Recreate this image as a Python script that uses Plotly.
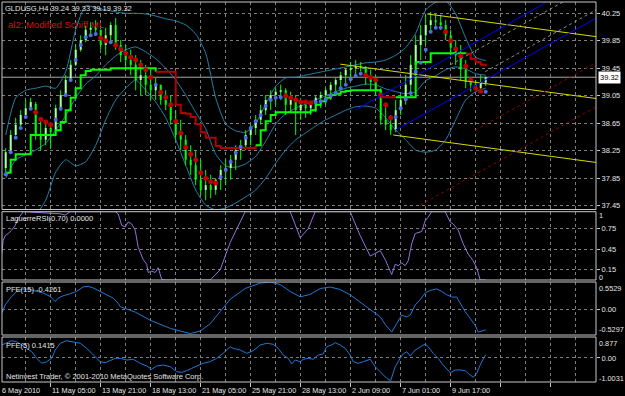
import plotly.graph_objects as go

# ---------------- data ----------------
symbol = "GLDUSG,H4"

bar_open = [38.00, 38.23, 38.48, 38.63, 38.77, 38.87, 38.93, 38.48, 38.41, 38.58,
            38.55, 38.87, 39.06, 39.28, 39.50, 39.72, 39.86, 40.01, 40.04, 40.01,
            39.79, 39.93, 40.08, 39.79, 39.64, 39.57, 39.50, 39.28, 39.35, 39.21,
            39.13, 39.21, 38.99, 38.92, 38.70, 38.48, 38.41, 38.12, 38.04, 37.83,
            37.68, 37.75, 37.68, 37.83, 37.97, 38.00, 38.12, 38.26, 38.33, 38.48,
            38.58, 38.70, 38.84, 38.99, 39.06, 39.11, 39.13, 38.92, 38.99, 38.84,
            38.92, 38.87, 38.93, 39.02, 39.06, 39.13, 39.21, 39.28, 39.35, 39.43,
            39.45, 39.48, 39.45, 39.31, 39.25, 39.13, 38.70, 38.63, 38.55, 38.84,
            38.99, 39.21, 39.50, 39.79, 39.93, 40.08, 40.15, 40.12, 40.08, 39.93,
            39.75, 39.64, 39.43, 39.25, 39.21, 39.16, 39.24]
bar_high = [38.29, 38.55, 38.73, 38.84, 38.99, 39.02, 38.96, 38.68, 38.64, 38.60,
            38.92, 39.13, 39.35, 39.57, 39.79, 39.93, 40.07, 40.12, 40.15, 40.01,
            40.04, 40.12, 40.18, 39.86, 39.79, 39.72, 39.64, 39.57, 39.50, 39.43,
            39.31, 39.21, 39.13, 39.06, 38.84, 38.70, 38.48, 38.33, 38.26, 38.12,
            37.97, 37.90, 37.85, 38.04, 38.12, 38.19, 38.33, 38.41, 38.55, 38.63,
            38.77, 38.92, 39.06, 39.13, 39.16, 39.21, 39.16, 39.11, 39.06, 38.99,
            38.99, 38.96, 39.05, 39.11, 39.16, 39.25, 39.31, 39.40, 39.45, 39.54,
            39.57, 39.54, 39.48, 39.43, 39.35, 39.16, 38.92, 38.77, 38.99, 39.06,
            39.35, 39.64, 39.93, 40.08, 40.23, 40.27, 40.24, 40.23, 40.15, 40.01,
            39.86, 39.79, 39.57, 39.31, 39.28, 39.35, 39.33]
bar_low = [37.94, 38.21, 38.47, 38.61, 38.77, 38.85, 38.41, 38.26, 38.33, 38.29,
           38.52, 38.84, 39.05, 39.25, 39.48, 39.69, 39.83, 39.95, 39.96, 39.72,
           39.64, 39.86, 39.72, 39.54, 39.43, 39.35, 39.13, 39.06, 39.06, 38.99,
           38.99, 38.92, 38.84, 38.63, 38.41, 38.26, 38.04, 37.90, 37.75, 37.61,
           37.53, 37.56, 37.61, 37.68, 37.75, 37.83, 37.97, 38.12, 38.26, 38.33,
           38.48, 38.63, 38.77, 38.84, 38.92, 38.99, 38.77, 38.81, 38.48, 38.70,
           38.73, 38.77, 38.81, 38.87, 38.92, 38.99, 39.06, 39.13, 39.21, 39.28,
           39.35, 39.40, 39.21, 39.13, 39.06, 38.63, 38.55, 38.48, 38.52, 38.77,
           38.92, 39.06, 39.43, 39.57, 39.79, 40.01, 40.04, 40.01, 39.86, 39.64,
           39.50, 39.28, 39.16, 39.11, 39.13, 39.13, 39.19]
bar_close = [38.23, 38.48, 38.63, 38.77, 38.87, 38.96, 38.48, 38.41, 38.58, 38.52,
             38.87, 39.06, 39.28, 39.50, 39.72, 39.86, 40.01, 40.04, 40.01, 39.79,
             39.93, 40.08, 39.79, 39.64, 39.57, 39.50, 39.28, 39.35, 39.21, 39.13,
             39.21, 38.99, 38.92, 38.70, 38.48, 38.41, 38.12, 38.04, 37.83, 37.68,
             37.75, 37.68, 37.83, 37.97, 38.00, 38.12, 38.26, 38.33, 38.48, 38.58,
             38.70, 38.84, 38.99, 39.06, 39.11, 39.13, 38.92, 38.99, 38.84, 38.92,
             38.87, 38.93, 39.02, 39.06, 39.13, 39.21, 39.28, 39.35, 39.43, 39.45,
             39.48, 39.45, 39.31, 39.25, 39.13, 38.70, 38.63, 38.55, 38.84, 38.99,
             39.21, 39.50, 39.79, 39.93, 40.08, 40.15, 40.12, 40.08, 39.93, 39.75,
             39.64, 39.43, 39.25, 39.21, 39.16, 39.25, 39.32]
bar_index = list(range(1, len(bar_close) + 1))

# parabolic-style dots (u = below price / blue, d = above price / red)
sar_value = [37.91, 38.23, 38.44, 38.58, 38.74, 38.86, 38.81, 38.71, 38.67, 38.63,
             38.70, 38.86, 39.06, 39.28, 39.57, 39.79, 39.90, 39.93, 39.95, 39.89,
             39.85, 39.83, 39.79, 39.73, 39.67, 39.61, 39.57, 39.50, 39.43, 39.32,
             39.21, 39.10, 39.03, 38.92, 38.68, 38.51, 38.30, 38.20, 38.12, 37.93,
             37.85, 37.80, 37.78, 37.87, 37.97, 38.09, 38.22, 38.31, 38.44, 38.58,
             38.68, 38.77, 38.90, 38.99, 39.02, 39.03, 39.05, 39.02, 38.99, 38.96,
             38.96, 38.95, 38.96, 38.97, 39.00, 39.05, 39.09, 39.16, 39.21, 39.29,
             39.34, 39.37, 39.35, 39.32, 39.28, 39.06, 38.92, 38.73, 38.74, 38.87,
             39.00, 39.09, 39.40, 39.53, 39.72, 39.98, 40.04, 40.04, 39.98, 39.85,
             39.73, 39.63, 39.48, 39.28, 39.16, 39.12, 39.11]
sar_side = ("uuuuuu" "dddd" "uuuuuuuuu" "dd" "u" "dddddddd" "u" "dddddddddddd"
            "uuuuuuuuuuuuu" "dddddd" "uuuuuuuuuu" "dddddd" "uuuuuuuuuu" "dddddddd" "u")

# stepped trailing line
stop_value = [37.93, 38.12, 38.20, 38.20, 38.20, 38.48, 38.48, 38.48, 38.48, 38.48,
              38.55, 38.67, 38.84, 39.02, 39.16, 39.35, 39.41, 39.43, 39.43, 39.43,
              39.43, 39.45, 39.45, 39.45, 39.45, 39.45, 39.45, 39.45, 39.45, 39.45,
              39.40, 39.40, 39.40, 39.40, 38.92, 38.80, 38.79, 38.74, 38.64, 38.52,
              38.44, 38.44, 38.32, 38.29, 38.29, 38.29, 38.29, 38.29, 38.29, 38.29,
              38.33, 38.55, 38.68, 38.77, 38.81, 38.81, 38.81, 38.81, 38.81, 38.81,
              38.81, 38.84, 38.92, 38.97, 39.02, 39.06, 39.08, 39.11, 39.12, 39.13,
              39.13, 39.13, 39.13, 39.13, 39.13, 39.03, 39.03, 39.03, 39.03, 39.03,
              39.03, 39.03, 39.54, 39.54, 39.54, 39.67, 39.67, 39.67, 39.67, 39.67,
              39.67, 39.67, 39.66, 39.59, 39.54, 39.50, 39.48]
stop_side = ("uuuuuuuuuuuuuuuuuuuuuuuuuuuuuu"
             "dddddddddddddddddddd"
             "uuuuuuuuuuuuuuuuuuuuuuuuu"
             "ddd"
             "uuuuuuuuuuuuuu"
             "ddddd")

# Bollinger bands (every second bar)
band_index = list(range(1, 98, 2))
band_upper = [38.48, 39.02, 39.13, 39.16, 39.19, 39.16, 39.40, 40.01, 40.36, 40.33,
              40.30, 40.27, 40.25, 40.25, 40.24, 40.21, 40.17, 40.14, 40.08, 39.95,
              39.67, 39.02, 38.64, 38.54, 38.52, 38.65, 38.93, 39.19, 39.31, 39.32,
              39.35, 39.38, 39.41, 39.44, 39.47, 39.50, 39.53, 39.54, 39.57, 39.64,
              39.75, 39.96, 40.30, 40.41, 40.43, 40.24, 39.89, 39.61, 39.56]
band_middle = [37.85, 38.12, 38.19, 38.26, 38.36, 38.55, 38.76, 39.02, 39.22, 39.34,
               39.50, 39.63, 39.72, 39.76, 39.69, 39.59, 39.45, 39.28, 39.06, 38.81,
               38.57, 38.20, 38.03, 38.01, 38.06, 38.17, 38.39, 38.64, 38.79, 38.87,
               38.93, 38.99, 39.05, 39.11, 39.16, 39.19, 39.22, 39.21, 39.15, 39.11,
               39.08, 39.11, 39.27, 39.34, 39.43, 39.47, 39.44, 39.37, 39.35]
band_lower = [37.17, 37.17, 37.21, 37.32, 37.53, 37.94, 38.12, 38.03, 38.09, 38.33,
              38.70, 38.99, 39.16, 39.28, 39.13, 38.96, 38.73, 38.41, 38.04, 37.68,
              37.46, 37.39, 37.42, 37.49, 37.58, 37.68, 37.85, 38.07, 38.26, 38.41,
              38.51, 38.61, 38.70, 38.77, 38.84, 38.89, 38.90, 38.87, 38.73, 38.55,
              38.41, 38.26, 38.23, 38.26, 38.41, 38.70, 38.99, 39.11, 39.16]

# pitchfork objects: (bar positions, prices)
fork_yellow = [([85.3, 119.1], [40.24, 39.91]),
               ([67.9, 119.1], [39.51, 39.01]),
               ([78.5, 119.1], [38.48, 38.08])]
fork_blue = [([70.9, 108.9], [38.84, 40.40]),
             ([78.9, 119.1], [38.55, 40.18])]
fork_grey = [([89.9, 113.1], [39.50, 40.44]),
             ([96.9, 119.1], [39.40, 40.30])]
fork_red = [([94.9, 119.1], [38.55, 39.53]),
            ([83.9, 119.1], [37.46, 38.89])]

laguerre_index = [0.2, 0.5, 0.9, 1.5, 2.2, 2.9, 3.5, 4.2, 4.5, 11.9, 12.9, 13.9,
                  22.9, 23.5, 24.2, 24.9, 25.5, 26.2, 26.9, 27.5, 28.5,
                  29.2, 29.5, 30.2, 30.9, 31.5, 32.2, 32.9, 41.9, 43.9, 45.9, 47.9,
                  48.9, 57.9, 58.9, 59.9, 61.5, 62.9,
                  69.9, 71.9, 73.9, 75.9, 76.9, 77.9, 78.2, 78.9, 79.5, 80.2, 80.9,
                  81.5, 82.2, 82.9, 84.2, 84.9, 85.5, 86.2, 88.9, 89.9, 90.5, 91.5,
                  92.5, 93.5, 94.5, 95.2, 95.9, 97]
laguerre_value = [0.38, 0.58, 0.65, 0.68, 0.73, 0.80, 0.90, 0.97, 1.0, 0.97, 0.95, 1.0,
                  1.0, 0.97, 0.80, 0.78, 0.85, 0.82, 0.73, 0.48, 0.30,
                  0.23, 0.11, 0.13, 0.11, 0.18, 0.01, 0.0, 0.0, 0.15, 0.55, 0.85,
                  1.0, 1.0, 0.80, 0.62, 0.75, 1.0,
                  1.0, 0.65, 0.35, 0.43, 0.30, 0.13, 0.08, 0.23, 0.21, 0.25, 0.21,
                  0.28, 0.53, 0.68, 0.71, 0.87, 0.92, 1.0, 1.0, 0.85, 0.82, 0.73,
                  0.53, 0.38, 0.28, 0.18, 0.0, 0.0]

pfe15_index = [0.2, 0.9, 1.9, 3.2, 4.5, 5.9, 7.2, 8.5, 9.9, 10.9,
               11.5, 12.5, 13.9, 15.2, 16.5, 17.5, 18.5, 19.9, 21.2, 22.5,
               23.5, 23.9, 26.9, 29.9, 33.9, 37.9, 39.9, 41.9, 43.9, 45.9,
               48.9, 51.9, 53.9, 55.9, 57.9, 59.9, 61.9, 63.9, 65.9, 67.9,
               69.9, 72.9, 75.9, 76.9, 78.2, 79.2, 80.2,
               81.2, 81.9, 82.9, 83.9, 84.9, 85.9, 87.2, 88.2, 89.2, 90.2,
               91.2, 91.9, 92.9, 93.9, 94.9, 95.5, 96.2, 97]
pfe15_value = [-0.088, 0.084, 0.224, 0.361, 0.411, 0.397, 0.361, 0.328, 0.257, 0.153,
               0.224, 0.272, 0.314, 0.361, 0.453, 0.465, 0.432, 0.361, 0.293, 0.224,
               0.120, 0.049, -0.061, -0.228, -0.394, -0.500, -0.450, -0.300, -0.050, 0.200,
               0.420, 0.530, 0.5529, 0.500, 0.360, 0.250, 0.300, 0.420, 0.450, 0.400,
               0.290, 0.064, -0.159, -0.311, -0.471, -0.296, -0.124,
               -0.159, -0.124, 0.084, 0.189, 0.328, 0.382, 0.411, 0.361, 0.293, 0.245,
               0.245, 0.120, -0.055, -0.192, -0.332, -0.471, -0.457, -0.4261]
pfe15_range = [-0.5297, 0.5529]

pfe5_index = [0.2, 1.2, 2.2, 3.2, 4.2, 5.2, 6.2, 7.2, 8.2, 9.2,
              10.2, 10.9, 11.9, 13.2, 14.5, 15.9, 17.2, 18.5, 19.9, 20.9,
              21.9, 22.9, 23.9, 25.2, 26.5, 27.9, 29.2, 30.2, 31.2, 32.5,
              33.9, 35.2, 36.2, 37.2, 38.2, 39.2, 40.5, 41.9, 43.2, 44.5,
              45.9, 46.5, 47.9, 49.2, 50.5, 51.9, 53.2, 54.5, 55.5, 56.5,
              57.5, 58.2, 58.9, 59.9, 60.5, 61.5, 62.5, 63.5, 64.5, 65.2,
              66.2, 66.9, 67.9, 68.9, 69.9, 70.5, 71.5, 72.5, 73.9, 74.9,
              76.2, 77.2, 78.0, 78.9, 79.9, 80.5, 81.2, 81.9, 82.9, 83.9,
              84.9, 85.5, 86.5, 87.5, 88.5, 89.9, 90.9, 91.9, 92.9, 93.5,
              94.5, 95.2, 95.9, 97]
pfe5_value = [0.543, 0.639, 0.722, 0.681, 0.543, 0.405, 0.263, -0.013, -0.222, -0.155,
              -0.013, 0.334, 0.614, 0.722, 0.681, 0.614, 0.405, 0.125, -0.155, -0.197,
              -0.113, -0.013, -0.013, -0.084, -0.055, -0.222, -0.335, -0.473, -0.335, -0.293,
              -0.364, -0.573, -0.598, -0.531, -0.431, -0.335, -0.222, -0.155, -0.013, 0.196,
              0.472, 0.405, 0.334, 0.196, 0.305, 0.543, 0.614, 0.572, 0.405, 0.125,
              -0.013, -0.251, -0.084, -0.155, -0.055, -0.013, -0.055, 0.125, 0.167, 0.472,
              0.543, 0.639, 0.543, 0.405, 0.125, -0.155, -0.222, -0.155, -0.055, -0.364,
              -0.640, -0.849, -0.949, -0.364, -0.013, 0.167, 0.263, 0.083, 0.334, 0.447,
              0.585, 0.472, 0.196, -0.013, -0.293, -0.615, -0.502, -0.502, -0.531, -0.640,
              -0.807, -0.640, -0.293, 0.1415]
pfe5_range = [-1.0031, 0.877]

price_ticks = [37.45, 37.85, 38.25, 38.65, 39.05, 39.45, 39.85, 40.25]
laguerre_ticks = [0.15, 0.45, 0.75]

time_labels = ["6 May 2010", "11 May 05:00", "13 May 21:00", "18 May 13:00",
               "21 May 05:00", "25 May 21:00", "28 May 13:00", "2 Jun 09:00",
               "7 Jun 01:00", "9 Jun 17:00"]
time_label_index = [0, 10, 20, 30, 40, 50, 60, 70, 80, 90]

# ---------------- style ----------------
FONT = "Liberation Sans"
TXT = "#E4E4E4"
GRID = "#7C7C7C"
FRAME = "#C8C8C8"
BAND = "rgb(38,128,168)"
LIME = "#00FF00"
BODY = "#A8FFA8"
DARKRED = "#B40000"
X_RANGE = [0.26, 119.06]

fig = go.Figure()

for band in (band_upper, band_middle, band_lower):
    fig.add_trace(go.Scatter(x=band_index, y=band, mode="lines",
                             line=dict(color=BAND, width=1, shape="spline", smoothing=0.6),
                             hoverinfo="skip"))

# bars: thin wicks + narrow bodies
wick_x, wick_y, up_x, up_y, dn_x, dn_y = [], [], [], [], [], []
for b, o, h, l, c in zip(bar_index, bar_open, bar_high, bar_low, bar_close):
    wick_x += [b, b, None]
    wick_y += [l, h, None]
    if c >= o:
        up_x += [b, b, None]
        up_y += [o, c, None]
    else:
        dn_x += [b, b, None]
        dn_y += [o, c, None]
fig.add_trace(go.Scatter(x=wick_x, y=wick_y, mode="lines", line=dict(color=LIME, width=1),
                         hoverinfo="skip"))
fig.add_trace(go.Scatter(x=up_x, y=up_y, mode="lines", line=dict(color=BODY, width=2),
                         hoverinfo="skip"))
fig.add_trace(go.Scatter(x=dn_x, y=dn_y, mode="lines", line=dict(color=LIME, width=2),
                         hoverinfo="skip"))


def runs(side):
    out, start = [], 0
    for i in range(1, len(side) + 1):
        if i == len(side) or side[i] != side[start]:
            out.append((start, i, side[start]))
            start = i
    return out


for s, e, t in runs(stop_side):
    idx = list(range(s, min(e + 1, len(stop_value))))
    fig.add_trace(go.Scatter(x=[bar_index[i] for i in idx], y=[stop_value[i] for i in idx],
                             mode="lines",
                             line=dict(color=LIME if t == "u" else DARKRED, width=2, shape="hv"),
                             hoverinfo="skip"))

fig.add_trace(go.Scatter(x=bar_index,
                         y=[v if s == "d" else None for v, s in zip(sar_value, sar_side)],
                         mode="markers", marker=dict(color="#C00000", size=5)))
fig.add_trace(go.Scatter(x=bar_index,
                         y=[v if s == "u" else None for v, s in zip(sar_value, sar_side)],
                         mode="markers", marker=dict(color="#4A6FE0", size=4)))

for xs, ys in fork_yellow:
    fig.add_trace(go.Scatter(x=xs, y=ys, mode="lines", line=dict(color="#D8D800", width=1)))
for xs, ys in fork_blue:
    fig.add_trace(go.Scatter(x=xs, y=ys, mode="lines", line=dict(color="#0000FF", width=1)))
for xs, ys in fork_grey:
    fig.add_trace(go.Scatter(x=xs, y=ys, mode="lines", line=dict(color="#8A8A8A", width=1, dash="dot")))
for xs, ys in fork_red:
    fig.add_trace(go.Scatter(x=xs, y=ys, mode="lines", line=dict(color="#8B0000", width=1, dash="dot")))

fig.add_trace(go.Scatter(x=laguerre_index, y=laguerre_value, yaxis="y2", mode="lines",
                         line=dict(color="#9370DB", width=1)))
fig.add_trace(go.Scatter(x=pfe15_index, y=pfe15_value, yaxis="y3", mode="lines",
                         line=dict(color="#1E78D8", width=1)))
fig.add_trace(go.Scatter(x=pfe5_index, y=pfe5_value, yaxis="y4", mode="lines",
                         line=dict(color="#1E78D8", width=1)))

# ---------------- layout ----------------
H_TOP, H_BOT = 2, 14
PLOT_H = 396 - H_TOP - H_BOT


def py(pix):
    return (396 - H_BOT - pix) / PLOT_H


def px(bar):
    return (bar - X_RANGE[0]) / (X_RANGE[1] - X_RANGE[0])


def yax(domain, rng, tickvals, ticktext):
    return dict(domain=domain, anchor="x", side="right", range=rng,
                tickvals=tickvals, ticktext=ticktext, ticks="outside", ticklen=3,
                tickcolor=FRAME, showgrid=True, gridcolor=GRID, griddash="dot",
                gridwidth=1, zeroline=False, showline=False, fixedrange=True,
                tickfont=dict(family=FONT, size=7.5, color=TXT))


major_x = [0, 10, 20, 30, 40, 50, 60, 70, 80, 90, 100, 110]
minor_x = [5, 15, 25, 35, 45, 55, 65, 75, 85, 95, 105, 115]

fig.update_layout(
    width=625, height=396,
    margin=dict(l=2, r=29, t=H_TOP, b=H_BOT),
    paper_bgcolor="black", plot_bgcolor="black",
    showlegend=False,
    font=dict(family=FONT, size=8, color=TXT),
    xaxis=dict(domain=[0, 1], anchor="y4", range=X_RANGE,
               tickvals=major_x, ticks="outside", ticklen=4, tickcolor=FRAME,
               showticklabels=False, showgrid=True, gridcolor=GRID, griddash="dot",
               gridwidth=1, zeroline=False, showline=False, fixedrange=True,
               minor=dict(tickvals=minor_x, showgrid=True, gridcolor=GRID,
                          griddash="dot", ticks="")),
    yaxis=yax([py(209.5), 1.0], [37.396, 40.414], price_ticks,
              [f"{v:.2f}" for v in price_ticks]),
    yaxis2=yax([py(280), py(211.7)], [0, 1], laguerre_ticks,
               [f"{v:.2f}" for v in laguerre_ticks]),
    yaxis3=yax([py(335), py(282)], pfe15_range, [0], ["0.00"]),
    yaxis4=yax([0, py(337)], pfe5_range, [0], ["0.00"]),
)

shapes = []
for ref in ("y domain", "y2 domain", "y3 domain", "y4 domain"):
    shapes.append(dict(type="rect", xref="paper", yref=ref, x0=0, x1=1, y0=0, y1=1,
                       line=dict(color=FRAME, width=1), layer="above"))
shapes.append(dict(type="line", xref="paper", yref="y", x0=0, x1=1,
                   y0=bar_close[-1], y1=bar_close[-1],
                   line=dict(color="#A8A8A8", width=1), layer="below"))
fig.update_layout(shapes=shapes)

ann = []


def left_text(text, ypix, size=7.5, color=TXT, xshift=1):
    ann.append(dict(text=text, xref="paper", yref="paper", x=0, y=py(ypix),
                    xanchor="left", yanchor="middle", xshift=xshift, showarrow=False,
                    font=dict(family=FONT, size=size, color=color)))


def right_text(text, ypix):
    ann.append(dict(text=text, xref="paper", yref="paper", x=1, y=py(ypix),
                    xanchor="left", yanchor="middle", xshift=1, showarrow=False,
                    font=dict(family=FONT, size=7.3, color=TXT)))


left_text(f"{symbol} {bar_open[-1]:.2f} {bar_high[-1]:.2f} {bar_low[-1]:.2f} {bar_close[-1]:.2f}", 8.3)
left_text("al2: Modified Schiff ML", 24.3, size=9.5, color="#D81010", xshift=4)
left_text(f"LaguerreRSI(0.70) {laguerre_value[-1]:.4f}", 218.3, xshift=2)
left_text(f"PFE(15) {pfe15_value[-1]:.4f}", 289.3, xshift=2)
left_text(f"PFE(5) {pfe5_value[-1]:.4f}", 345, xshift=2)
left_text("Netinvest Trader, \u00a9 2001-2010 MetaQuotes Software Corp.", 376, xshift=2)

right_text("1", 215.7)
right_text("0", 277.5)
right_text(f"{pfe15_range[1]:.4f}", 288)
right_text(f"{pfe15_range[0]:.4f}", 329.5)
right_text(f"{pfe5_range[1]:.3f}", 343)
right_text(f"{pfe5_range[0]:.4f}", 378)

ann.append(dict(text=f"{bar_close[-1]:.2f}", xref="paper", yref="y", x=1, y=bar_close[-1],
                xanchor="left", yanchor="middle", xshift=2, showarrow=False,
                bgcolor="white", borderpad=1,
                font=dict(family=FONT, size=7.5, color="black")))

for lab, bi in zip(time_labels, time_label_index):
    ann.append(dict(text=lab, xref="paper", yref="paper", x=px(bi), y=py(390.7),
                    xanchor="left", yanchor="middle", xshift=-1, showarrow=False,
                    font=dict(family=FONT, size=7.3, color=TXT)))

fig.update_layout(annotations=ann)

fig.write_html("out.html")
